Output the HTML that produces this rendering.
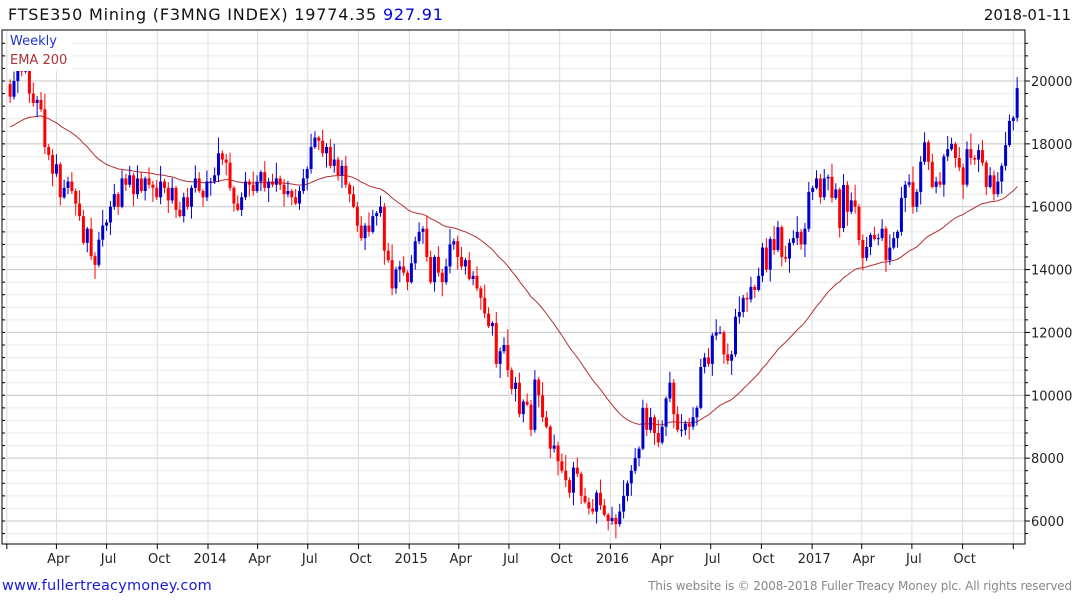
<!DOCTYPE html>
<html><head><meta charset="utf-8"><style>
html,body{margin:0;padding:0;background:#fff;}
svg{display:block;font-family:"DejaVu Sans","Liberation Sans",sans-serif;}
</style></head><body>
<svg id="chart" width="1075" height="600" viewBox="0 0 1075 600">
<g id="grid"></g>
<g id="ema"></g>
<g id="candles"></g>
<g id="axes"></g>
<text x="8" y="20" font-size="16" letter-spacing="0.8" fill="#111">FTSE350 Mining (F3MNG INDEX) 19774.35 <tspan fill="#0000dd">927.91</tspan></text>
<text x="1071" y="20" font-size="15" fill="#111" text-anchor="end">2018-01-11</text>
<rect x="8" y="31" width="64" height="40" fill="#fff"/>
<text x="10" y="45" font-size="13" fill="#2233cc">Weekly</text>
<text x="10" y="64" font-size="13" fill="#a33">EMA 200</text>
<text x="2" y="590" font-size="14.5" letter-spacing="0.2" fill="#1a1add">www.fullertreacymoney.com</text>
<text x="1072" y="590" font-size="12" letter-spacing="-0.15" fill="#888" text-anchor="end">This website is © 2008-2018 Fuller Treacy Money plc. All rights reserved</text>
</svg>
<script>
const closes = [19500,20000,20400,20300,20400,19600,19300,19400,19100,17900,17650,17050,17350,16300,16600,16800,16500,16100,15700,14850,15300,14430,14150,14950,15400,
15500,16000,16400,16000,16900,16700,17000,16400,16900,16500,16900,16700,16600,16300,16800,16600,16200,16600,15900,15700,16300,16000,16600,16900,16500,16300,16800,16800,17000,
17700,17500,17400,16600,16100,15900,16300,16800,16700,16500,16800,17100,16600,16800,16700,16900,16700,16400,16500,16300,16100,16500,16900,17200,17900,
18200,18100,17700,17900,17300,17500,17000,17300,16700,16400,16000,15400,15000,
15400,15200,15700,15800,16000,14600,14300,13400,14000,14100,13900,13600,14200,
14900,15200,15300,14400,13600,14400,13900,13600,14100,14800,14900,14400,14100,
14300,13700,13800,13400,13100,12600,12200,12300,11000,11400,11600,10800,10200,
10400,9400,9800,9700,8900,10500,10000,9300,9000,8300,8400,7900,7600,
7300,6900,7700,7500,6800,6600,6400,6300,6900,6500,6200,6000,6100,
5900,6300,6800,7200,7600,8000,8300,9600,8900,9300,8800,8500,9000,
9900,10400,9400,8900,8900,9100,9000,9300,9600,10900,11200,11000,11900,
12000,12000,11300,11100,11300,12500,12650,13100,13050,13450,13350,13800,14700,
14000,14970,14620,15350,14400,14350,14850,15000,15200,14800,15300,16470,16600,16900,16300,16900,
16950,16280,16550,15320,16690,15840,16200,16000,14940,14370,14720,15100,14970,
15000,15300,14300,14700,15000,15200,16280,16700,16780,16000,16470,17430,18050,
17430,16630,16800,16700,17600,17830,18000,17550,17250,16700,17830,17550,17500,17800,17400,16630,17000,16400,16800,17300,17960,18730,18830,19774];
const firstOpen = 19900;
const wickUp = [150,300,80,420,200,60,350,120,250,500,90,180,320,70,260];
const wickDn = [200,90,380,150,60,300,120,450,80,220,170,400,100,260,50];
const yTicks = [6000,8000,10000,12000,14000,16000,18000,20000];
const xTickLabels = ["","Apr","Jul","Oct","2014","Apr","Jul","Oct","2015","Apr","Jul","Oct","2016","Apr","Jul","Oct","2017","Apr","Jul","Oct",""];
const xTickDates = ["2013-01-01","2013-04-01","2013-07-01","2013-10-01","2014-01-01","2014-04-01","2014-07-01","2014-10-01","2015-01-01","2015-04-01","2015-07-01","2015-10-01","2016-01-01","2016-04-01","2016-07-01","2016-10-01","2017-01-01","2017-04-01","2017-07-01","2017-10-01","2018-01-01"];
const emaSeed = 18500;
const emaPeriodWeeks = 48;

const NS="http://www.w3.org/2000/svg";
const PL=2, PR=1025, PT=30, PB=544;
const d0=Date.UTC(2014,0,1);
function xDate(ms){return 208+(ms-d0)/86400000*0.5512;}
function xIdx(i){return xDate(Date.UTC(2013,0,7)+i*7*86400000);}
function y(v){return 521-(v-6000)*(440/14000);}
function mk(tag,attrs,parent){const e=document.createElementNS(NS,tag);for(const k in attrs)e.setAttribute(k,attrs[k]);parent.appendChild(e);return e;}
const grid=document.getElementById('grid'), axes=document.getElementById('axes'), cg=document.getElementById('candles'), eg=document.getElementById('ema');

for(let v=5600; v<=21200; v+=400){
  const yy=y(v); if(yy<PT||yy>PB) continue;
  const major=v%2000===0;
  const l=mk('line',{x1:PL,x2:PR,y1:yy,y2:yy,stroke:major?'#c4c4c4':'#ebebeb','stroke-width':1},grid);
  
  
  const t=mk('line',{x1:PR,x2:PR+(major?5:3),y1:yy,y2:yy,stroke:'#000'},axes);
  
  
  const t2=mk('line',{x1:PL,x2:PL+3,y1:yy,y2:yy,stroke:'#000'},axes);
  
  
}
yTicks.forEach(v=>{
  const t=mk('text',{x:PR+6,y:y(v)+5,'font-size':13,fill:'#222'},axes);
  t.textContent=v;
  
  
});
xTickDates.forEach((ds,i)=>{
  const p=ds.split('-').map(Number);
  const xx=xDate(Date.UTC(p[0],p[1]-1,p[2]));
  const g=mk('line',{x1:xx,x2:xx,y1:PT,y2:PB,stroke:'#dcdcdc'},grid);
  
  
  const t=mk('line',{x1:xx,x2:xx,y1:PB,y2:PB+5,stroke:'#000'},axes);
  
  
  if(xTickLabels[i]){
    const tx=mk('text',{x:xx+2,y:PB+19,'font-size':13,fill:'#222','text-anchor':'middle'},axes);
    tx.textContent=xTickLabels[i];
    
    
  }
});
const fr=mk('path',{d:`M${PL},${PT}H${PR}V${PB}H${PL}Z`,fill:'none',stroke:'#000','stroke-width':1},axes);



let prev=firstOpen;
closes.forEach((c,i)=>{
  const o=prev; prev=c;
  const up=c>=o; const col=up?'#0000cc':'#ff0000';
  const hi=Math.max(o,c)+wickUp[i%wickUp.length];
  const lo=Math.min(o,c)-wickDn[i%wickDn.length];
  const xx=xIdx(i);
  const w=mk('line',{x1:xx,x2:xx,y1:y(hi),y2:y(lo),stroke:col,'stroke-width':1},cg);
  
  
  const top=y(Math.max(o,c)), bot=y(Math.min(o,c));
  const b=mk('rect',{x:xx-1.5,y:top,width:3,height:Math.max(1,bot-top),fill:col},cg);
  
  
});
const k=2/(emaPeriodWeeks+1); let e=emaSeed; const pts=[];
closes.forEach((c,i)=>{e=e+k*(c-e); pts.push(xIdx(i).toFixed(1)+','+y(e).toFixed(1));});
const el=mk('polyline',{points:pts.join(' '),fill:'none',stroke:'#b03030','stroke-width':1},eg);


</script>
</body></html>
